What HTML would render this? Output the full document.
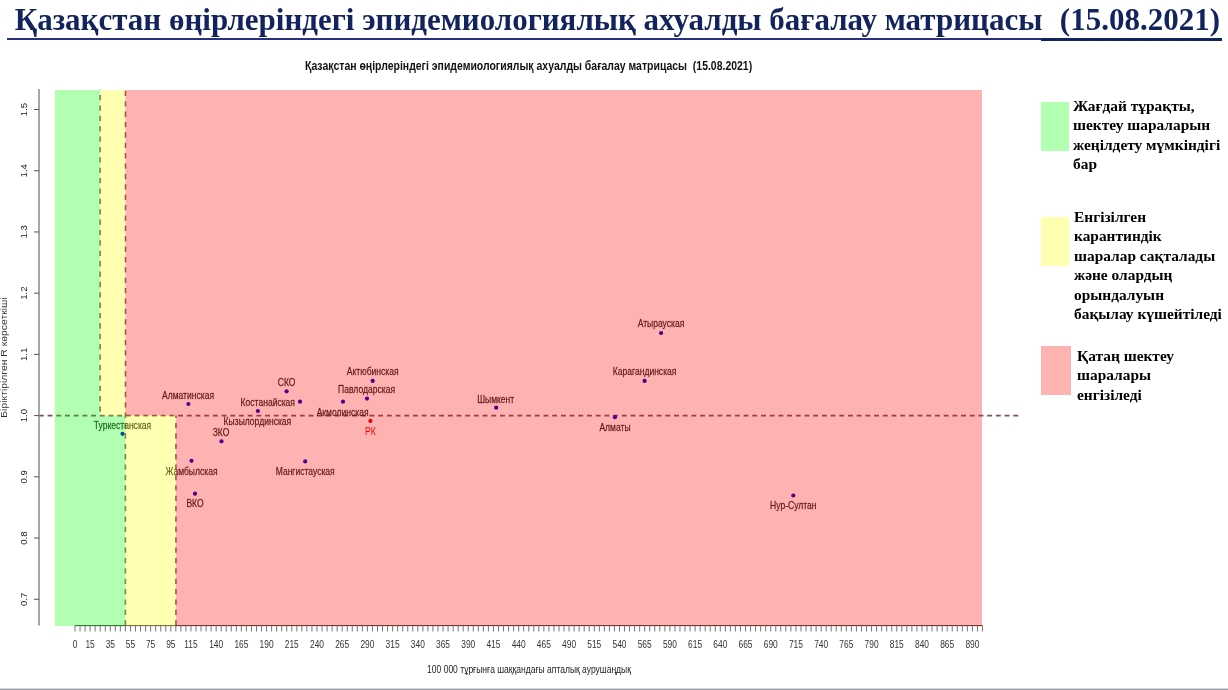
<!DOCTYPE html>
<html><head><meta charset="utf-8"><style>
html,body{margin:0;padding:0;background:#fff;overflow:hidden}
#root{position:relative;will-change:transform;width:1228px;height:690px;overflow:hidden;background:#fff}
.title{position:absolute;left:14.7px;top:0;font-family:"Liberation Serif",serif;font-weight:bold;font-size:31px;line-height:40px;color:#13235e;white-space:pre}
.ul1{position:absolute;left:7px;top:38px;width:1034px;height:2px;background:#2a2f7e}
.ul2{position:absolute;left:1041px;top:38px;width:181px;height:3.4px;background:#13235e}
.lg{position:absolute}
.lt{position:absolute;font-family:"Liberation Serif",serif;font-weight:bold;font-size:14.5px;line-height:19.45px;color:#000;white-space:pre;transform:scaleX(1.062);transform-origin:0 0}
.bot{position:absolute;left:0;top:688px;width:1228px;height:2px;background:linear-gradient(#d2d4da 0 50%,#a0a4ae 50% 100%)}
</style></head><body><div id="root">
<div class="title">Қазақстан өңірлеріндегі эпидемиологиялық ахуалды бағалау матрицасы  <span style="margin-left:2px">(15.08.2021)</span></div>
<div class="ul1"></div><div class="ul2"></div>
<svg width="1228" height="690" viewBox="0 0 1228 690" style="position:absolute;left:0;top:0"><line x1="38.9" y1="415.6" x2="1019" y2="415.6" stroke="#80505c" stroke-width="1.8" stroke-dasharray="4.9 3.8"/><line x1="100.21" y1="89.8" x2="100.21" y2="415.6" stroke="#80505c" stroke-width="1.6" stroke-dasharray="5.3 5.08" stroke-dashoffset="5.18"/><line x1="125.41" y1="625.5" x2="125.41" y2="89.8" stroke="#80505c" stroke-width="1.6" stroke-dasharray="5.3 5.08"/><line x1="175.83" y1="625.5" x2="175.83" y2="415.6" stroke="#80505c" stroke-width="1.6" stroke-dasharray="5.3 5.08"/><circle cx="122.5" cy="433.8" r="2.1" fill="#0000c8"/><text transform="translate(122.5 428.6) scale(0.855 1)" text-anchor="middle" style="font-family:'Liberation Sans',sans-serif;font-size:10px" fill="#1e1e1e" stroke="#1e1e1e" stroke-width="0.3" stroke-opacity="0.6">Туркестанская</text><circle cx="188.4" cy="404.0" r="2.1" fill="#0000c8"/><text transform="translate(188.0 398.8) scale(0.855 1)" text-anchor="middle" style="font-family:'Liberation Sans',sans-serif;font-size:10px" fill="#1e1e1e" stroke="#1e1e1e" stroke-width="0.3" stroke-opacity="0.6">Алматинская</text><circle cx="191.5" cy="460.8" r="2.1" fill="#0000c8"/><text transform="translate(191.5 474.90000000000003) scale(0.855 1)" text-anchor="middle" style="font-family:'Liberation Sans',sans-serif;font-size:10px" fill="#1e1e1e" stroke="#1e1e1e" stroke-width="0.3" stroke-opacity="0.6">Жамбылская</text><circle cx="195.0" cy="493.7" r="2.1" fill="#0000c8"/><text transform="translate(195.0 507.40000000000003) scale(0.855 1)" text-anchor="middle" style="font-family:'Liberation Sans',sans-serif;font-size:10px" fill="#1e1e1e" stroke="#1e1e1e" stroke-width="0.3" stroke-opacity="0.6">ВКО</text><circle cx="221.5" cy="441.3" r="2.1" fill="#0000c8"/><text transform="translate(221.0 436.0) scale(0.855 1)" text-anchor="middle" style="font-family:'Liberation Sans',sans-serif;font-size:10px" fill="#1e1e1e" stroke="#1e1e1e" stroke-width="0.3" stroke-opacity="0.6">ЗКО</text><circle cx="257.9" cy="411.0" r="2.1" fill="#0000c8"/><text transform="translate(257.4 424.8) scale(0.855 1)" text-anchor="middle" style="font-family:'Liberation Sans',sans-serif;font-size:10px" fill="#1e1e1e" stroke="#1e1e1e" stroke-width="0.3" stroke-opacity="0.6">Кызылординская</text><circle cx="286.6" cy="391.3" r="2.1" fill="#0000c8"/><text transform="translate(286.6 386.20000000000005) scale(0.855 1)" text-anchor="middle" style="font-family:'Liberation Sans',sans-serif;font-size:10px" fill="#1e1e1e" stroke="#1e1e1e" stroke-width="0.3" stroke-opacity="0.6">СКО</text><circle cx="300.0" cy="401.7" r="2.1" fill="#0000c8"/><text transform="translate(267.8 405.6) scale(0.855 1)" text-anchor="middle" style="font-family:'Liberation Sans',sans-serif;font-size:10px" fill="#1e1e1e" stroke="#1e1e1e" stroke-width="0.3" stroke-opacity="0.6">Костанайская</text><circle cx="305.2" cy="461.4" r="2.1" fill="#0000c8"/><text transform="translate(305.2 474.90000000000003) scale(0.855 1)" text-anchor="middle" style="font-family:'Liberation Sans',sans-serif;font-size:10px" fill="#1e1e1e" stroke="#1e1e1e" stroke-width="0.3" stroke-opacity="0.6">Мангистауская</text><circle cx="343.0" cy="401.7" r="2.1" fill="#0000c8"/><text transform="translate(342.6 415.8) scale(0.855 1)" text-anchor="middle" style="font-family:'Liberation Sans',sans-serif;font-size:10px" fill="#1e1e1e" stroke="#1e1e1e" stroke-width="0.3" stroke-opacity="0.6">Акмолинская</text><circle cx="367.0" cy="398.6" r="2.1" fill="#0000c8"/><text transform="translate(366.6 393.20000000000005) scale(0.855 1)" text-anchor="middle" style="font-family:'Liberation Sans',sans-serif;font-size:10px" fill="#1e1e1e" stroke="#1e1e1e" stroke-width="0.3" stroke-opacity="0.6">Павлодарская</text><circle cx="372.7" cy="380.9" r="2.1" fill="#0000c8"/><text transform="translate(372.7 375.40000000000003) scale(0.855 1)" text-anchor="middle" style="font-family:'Liberation Sans',sans-serif;font-size:10px" fill="#1e1e1e" stroke="#1e1e1e" stroke-width="0.3" stroke-opacity="0.6">Актюбинская</text><circle cx="496.2" cy="407.7" r="2.1" fill="#0000c8"/><text transform="translate(495.7 402.6) scale(0.855 1)" text-anchor="middle" style="font-family:'Liberation Sans',sans-serif;font-size:10px" fill="#1e1e1e" stroke="#1e1e1e" stroke-width="0.3" stroke-opacity="0.6">Шымкент</text><circle cx="614.9" cy="417.2" r="2.1" fill="#0000c8"/><text transform="translate(615.0 431.1) scale(0.855 1)" text-anchor="middle" style="font-family:'Liberation Sans',sans-serif;font-size:10px" fill="#1e1e1e" stroke="#1e1e1e" stroke-width="0.3" stroke-opacity="0.6">Алматы</text><circle cx="644.6" cy="380.9" r="2.1" fill="#0000c8"/><text transform="translate(644.6 375.1) scale(0.855 1)" text-anchor="middle" style="font-family:'Liberation Sans',sans-serif;font-size:10px" fill="#1e1e1e" stroke="#1e1e1e" stroke-width="0.3" stroke-opacity="0.6">Карагандинская</text><circle cx="661.1" cy="333.0" r="2.1" fill="#0000c8"/><text transform="translate(661.0 326.70000000000005) scale(0.855 1)" text-anchor="middle" style="font-family:'Liberation Sans',sans-serif;font-size:10px" fill="#1e1e1e" stroke="#1e1e1e" stroke-width="0.3" stroke-opacity="0.6">Атырауская</text><circle cx="793.3" cy="495.5" r="2.1" fill="#0000c8"/><text transform="translate(793.3 509.3) scale(0.855 1)" text-anchor="middle" style="font-family:'Liberation Sans',sans-serif;font-size:10px" fill="#1e1e1e" stroke="#1e1e1e" stroke-width="0.3" stroke-opacity="0.6">Нур-Султан</text><circle cx="370.4" cy="420.9" r="2.1" fill="#e00000"/><text transform="translate(370.4 434.90000000000003) scale(0.855 1)" text-anchor="middle" style="font-family:'Liberation Sans',sans-serif;font-size:10px" fill="#ff0000">РК</text><line x1="75.00" y1="625.6" x2="982.47" y2="625.6" stroke="#333" stroke-width="1"/><rect x="55.00" y="90.00" width="45.21" height="325.60" fill="#00ff00" fill-opacity="0.3"/><rect x="100.21" y="90.00" width="25.21" height="325.60" fill="#ffff00" fill-opacity="0.3"/><rect x="125.41" y="90.00" width="856.59" height="325.60" fill="#ff0000" fill-opacity="0.3"/><rect x="55.00" y="415.60" width="70.41" height="210.40" fill="#00ff00" fill-opacity="0.3"/><rect x="125.41" y="415.60" width="50.41" height="210.40" fill="#ffff00" fill-opacity="0.3"/><rect x="175.83" y="415.60" width="806.17" height="210.40" fill="#ff0000" fill-opacity="0.3"/><line x1="39" y1="89" x2="39" y2="625.5" stroke="#888" stroke-width="1.5"/><line x1="34" y1="599.26" x2="39" y2="599.26" stroke="#555" stroke-width="1"/><text transform="translate(26.8 599.26) rotate(-90)" text-anchor="middle" style="font-family:'Liberation Sans',sans-serif;font-size:9.6px" fill="#222">0.7</text><line x1="34" y1="538.04" x2="39" y2="538.04" stroke="#555" stroke-width="1"/><text transform="translate(26.8 538.04) rotate(-90)" text-anchor="middle" style="font-family:'Liberation Sans',sans-serif;font-size:9.6px" fill="#222">0.8</text><line x1="34" y1="476.82" x2="39" y2="476.82" stroke="#555" stroke-width="1"/><text transform="translate(26.8 476.82) rotate(-90)" text-anchor="middle" style="font-family:'Liberation Sans',sans-serif;font-size:9.6px" fill="#222">0.9</text><line x1="34" y1="415.60" x2="39" y2="415.60" stroke="#555" stroke-width="1"/><text transform="translate(26.8 415.60) rotate(-90)" text-anchor="middle" style="font-family:'Liberation Sans',sans-serif;font-size:9.6px" fill="#222">1.0</text><line x1="34" y1="354.38" x2="39" y2="354.38" stroke="#555" stroke-width="1"/><text transform="translate(26.8 354.38) rotate(-90)" text-anchor="middle" style="font-family:'Liberation Sans',sans-serif;font-size:9.6px" fill="#222">1.1</text><line x1="34" y1="293.16" x2="39" y2="293.16" stroke="#555" stroke-width="1"/><text transform="translate(26.8 293.16) rotate(-90)" text-anchor="middle" style="font-family:'Liberation Sans',sans-serif;font-size:9.6px" fill="#222">1.2</text><line x1="34" y1="231.94" x2="39" y2="231.94" stroke="#555" stroke-width="1"/><text transform="translate(26.8 231.94) rotate(-90)" text-anchor="middle" style="font-family:'Liberation Sans',sans-serif;font-size:9.6px" fill="#222">1.3</text><line x1="34" y1="170.72" x2="39" y2="170.72" stroke="#555" stroke-width="1"/><text transform="translate(26.8 170.72) rotate(-90)" text-anchor="middle" style="font-family:'Liberation Sans',sans-serif;font-size:9.6px" fill="#222">1.4</text><line x1="34" y1="109.50" x2="39" y2="109.50" stroke="#555" stroke-width="1"/><text transform="translate(26.8 109.50) rotate(-90)" text-anchor="middle" style="font-family:'Liberation Sans',sans-serif;font-size:9.6px" fill="#222">1.5</text><line x1="75.00" y1="625.5" x2="75.00" y2="631.5" stroke="#666" stroke-width="0.9"/><line x1="80.04" y1="625.5" x2="80.04" y2="631.5" stroke="#666" stroke-width="0.9"/><line x1="85.08" y1="625.5" x2="85.08" y2="631.5" stroke="#666" stroke-width="0.9"/><line x1="90.12" y1="625.5" x2="90.12" y2="631.5" stroke="#666" stroke-width="0.9"/><line x1="95.17" y1="625.5" x2="95.17" y2="631.5" stroke="#666" stroke-width="0.9"/><line x1="100.21" y1="625.5" x2="100.21" y2="631.5" stroke="#666" stroke-width="0.9"/><line x1="105.25" y1="625.5" x2="105.25" y2="631.5" stroke="#666" stroke-width="0.9"/><line x1="110.29" y1="625.5" x2="110.29" y2="631.5" stroke="#666" stroke-width="0.9"/><line x1="115.33" y1="625.5" x2="115.33" y2="631.5" stroke="#666" stroke-width="0.9"/><line x1="120.37" y1="625.5" x2="120.37" y2="631.5" stroke="#666" stroke-width="0.9"/><line x1="125.41" y1="625.5" x2="125.41" y2="631.5" stroke="#666" stroke-width="0.9"/><line x1="130.46" y1="625.5" x2="130.46" y2="631.5" stroke="#666" stroke-width="0.9"/><line x1="135.50" y1="625.5" x2="135.50" y2="631.5" stroke="#666" stroke-width="0.9"/><line x1="140.54" y1="625.5" x2="140.54" y2="631.5" stroke="#666" stroke-width="0.9"/><line x1="145.58" y1="625.5" x2="145.58" y2="631.5" stroke="#666" stroke-width="0.9"/><line x1="150.62" y1="625.5" x2="150.62" y2="631.5" stroke="#666" stroke-width="0.9"/><line x1="155.66" y1="625.5" x2="155.66" y2="631.5" stroke="#666" stroke-width="0.9"/><line x1="160.71" y1="625.5" x2="160.71" y2="631.5" stroke="#666" stroke-width="0.9"/><line x1="165.75" y1="625.5" x2="165.75" y2="631.5" stroke="#666" stroke-width="0.9"/><line x1="170.79" y1="625.5" x2="170.79" y2="631.5" stroke="#666" stroke-width="0.9"/><line x1="175.83" y1="625.5" x2="175.83" y2="631.5" stroke="#666" stroke-width="0.9"/><line x1="180.87" y1="625.5" x2="180.87" y2="631.5" stroke="#666" stroke-width="0.9"/><line x1="185.91" y1="625.5" x2="185.91" y2="631.5" stroke="#666" stroke-width="0.9"/><line x1="190.95" y1="625.5" x2="190.95" y2="631.5" stroke="#666" stroke-width="0.9"/><line x1="196.00" y1="625.5" x2="196.00" y2="631.5" stroke="#666" stroke-width="0.9"/><line x1="201.04" y1="625.5" x2="201.04" y2="631.5" stroke="#666" stroke-width="0.9"/><line x1="206.08" y1="625.5" x2="206.08" y2="631.5" stroke="#666" stroke-width="0.9"/><line x1="211.12" y1="625.5" x2="211.12" y2="631.5" stroke="#666" stroke-width="0.9"/><line x1="216.16" y1="625.5" x2="216.16" y2="631.5" stroke="#666" stroke-width="0.9"/><line x1="221.20" y1="625.5" x2="221.20" y2="631.5" stroke="#666" stroke-width="0.9"/><line x1="226.25" y1="625.5" x2="226.25" y2="631.5" stroke="#666" stroke-width="0.9"/><line x1="231.29" y1="625.5" x2="231.29" y2="631.5" stroke="#666" stroke-width="0.9"/><line x1="236.33" y1="625.5" x2="236.33" y2="631.5" stroke="#666" stroke-width="0.9"/><line x1="241.37" y1="625.5" x2="241.37" y2="631.5" stroke="#666" stroke-width="0.9"/><line x1="246.41" y1="625.5" x2="246.41" y2="631.5" stroke="#666" stroke-width="0.9"/><line x1="251.45" y1="625.5" x2="251.45" y2="631.5" stroke="#666" stroke-width="0.9"/><line x1="256.49" y1="625.5" x2="256.49" y2="631.5" stroke="#666" stroke-width="0.9"/><line x1="261.54" y1="625.5" x2="261.54" y2="631.5" stroke="#666" stroke-width="0.9"/><line x1="266.58" y1="625.5" x2="266.58" y2="631.5" stroke="#666" stroke-width="0.9"/><line x1="271.62" y1="625.5" x2="271.62" y2="631.5" stroke="#666" stroke-width="0.9"/><line x1="276.66" y1="625.5" x2="276.66" y2="631.5" stroke="#666" stroke-width="0.9"/><line x1="281.70" y1="625.5" x2="281.70" y2="631.5" stroke="#666" stroke-width="0.9"/><line x1="286.74" y1="625.5" x2="286.74" y2="631.5" stroke="#666" stroke-width="0.9"/><line x1="291.78" y1="625.5" x2="291.78" y2="631.5" stroke="#666" stroke-width="0.9"/><line x1="296.83" y1="625.5" x2="296.83" y2="631.5" stroke="#666" stroke-width="0.9"/><line x1="301.87" y1="625.5" x2="301.87" y2="631.5" stroke="#666" stroke-width="0.9"/><line x1="306.91" y1="625.5" x2="306.91" y2="631.5" stroke="#666" stroke-width="0.9"/><line x1="311.95" y1="625.5" x2="311.95" y2="631.5" stroke="#666" stroke-width="0.9"/><line x1="316.99" y1="625.5" x2="316.99" y2="631.5" stroke="#666" stroke-width="0.9"/><line x1="322.03" y1="625.5" x2="322.03" y2="631.5" stroke="#666" stroke-width="0.9"/><line x1="327.07" y1="625.5" x2="327.07" y2="631.5" stroke="#666" stroke-width="0.9"/><line x1="332.12" y1="625.5" x2="332.12" y2="631.5" stroke="#666" stroke-width="0.9"/><line x1="337.16" y1="625.5" x2="337.16" y2="631.5" stroke="#666" stroke-width="0.9"/><line x1="342.20" y1="625.5" x2="342.20" y2="631.5" stroke="#666" stroke-width="0.9"/><line x1="347.24" y1="625.5" x2="347.24" y2="631.5" stroke="#666" stroke-width="0.9"/><line x1="352.28" y1="625.5" x2="352.28" y2="631.5" stroke="#666" stroke-width="0.9"/><line x1="357.32" y1="625.5" x2="357.32" y2="631.5" stroke="#666" stroke-width="0.9"/><line x1="362.37" y1="625.5" x2="362.37" y2="631.5" stroke="#666" stroke-width="0.9"/><line x1="367.41" y1="625.5" x2="367.41" y2="631.5" stroke="#666" stroke-width="0.9"/><line x1="372.45" y1="625.5" x2="372.45" y2="631.5" stroke="#666" stroke-width="0.9"/><line x1="377.49" y1="625.5" x2="377.49" y2="631.5" stroke="#666" stroke-width="0.9"/><line x1="382.53" y1="625.5" x2="382.53" y2="631.5" stroke="#666" stroke-width="0.9"/><line x1="387.57" y1="625.5" x2="387.57" y2="631.5" stroke="#666" stroke-width="0.9"/><line x1="392.61" y1="625.5" x2="392.61" y2="631.5" stroke="#666" stroke-width="0.9"/><line x1="397.66" y1="625.5" x2="397.66" y2="631.5" stroke="#666" stroke-width="0.9"/><line x1="402.70" y1="625.5" x2="402.70" y2="631.5" stroke="#666" stroke-width="0.9"/><line x1="407.74" y1="625.5" x2="407.74" y2="631.5" stroke="#666" stroke-width="0.9"/><line x1="412.78" y1="625.5" x2="412.78" y2="631.5" stroke="#666" stroke-width="0.9"/><line x1="417.82" y1="625.5" x2="417.82" y2="631.5" stroke="#666" stroke-width="0.9"/><line x1="422.86" y1="625.5" x2="422.86" y2="631.5" stroke="#666" stroke-width="0.9"/><line x1="427.90" y1="625.5" x2="427.90" y2="631.5" stroke="#666" stroke-width="0.9"/><line x1="432.95" y1="625.5" x2="432.95" y2="631.5" stroke="#666" stroke-width="0.9"/><line x1="437.99" y1="625.5" x2="437.99" y2="631.5" stroke="#666" stroke-width="0.9"/><line x1="443.03" y1="625.5" x2="443.03" y2="631.5" stroke="#666" stroke-width="0.9"/><line x1="448.07" y1="625.5" x2="448.07" y2="631.5" stroke="#666" stroke-width="0.9"/><line x1="453.11" y1="625.5" x2="453.11" y2="631.5" stroke="#666" stroke-width="0.9"/><line x1="458.15" y1="625.5" x2="458.15" y2="631.5" stroke="#666" stroke-width="0.9"/><line x1="463.20" y1="625.5" x2="463.20" y2="631.5" stroke="#666" stroke-width="0.9"/><line x1="468.24" y1="625.5" x2="468.24" y2="631.5" stroke="#666" stroke-width="0.9"/><line x1="473.28" y1="625.5" x2="473.28" y2="631.5" stroke="#666" stroke-width="0.9"/><line x1="478.32" y1="625.5" x2="478.32" y2="631.5" stroke="#666" stroke-width="0.9"/><line x1="483.36" y1="625.5" x2="483.36" y2="631.5" stroke="#666" stroke-width="0.9"/><line x1="488.40" y1="625.5" x2="488.40" y2="631.5" stroke="#666" stroke-width="0.9"/><line x1="493.44" y1="625.5" x2="493.44" y2="631.5" stroke="#666" stroke-width="0.9"/><line x1="498.49" y1="625.5" x2="498.49" y2="631.5" stroke="#666" stroke-width="0.9"/><line x1="503.53" y1="625.5" x2="503.53" y2="631.5" stroke="#666" stroke-width="0.9"/><line x1="508.57" y1="625.5" x2="508.57" y2="631.5" stroke="#666" stroke-width="0.9"/><line x1="513.61" y1="625.5" x2="513.61" y2="631.5" stroke="#666" stroke-width="0.9"/><line x1="518.65" y1="625.5" x2="518.65" y2="631.5" stroke="#666" stroke-width="0.9"/><line x1="523.69" y1="625.5" x2="523.69" y2="631.5" stroke="#666" stroke-width="0.9"/><line x1="528.74" y1="625.5" x2="528.74" y2="631.5" stroke="#666" stroke-width="0.9"/><line x1="533.78" y1="625.5" x2="533.78" y2="631.5" stroke="#666" stroke-width="0.9"/><line x1="538.82" y1="625.5" x2="538.82" y2="631.5" stroke="#666" stroke-width="0.9"/><line x1="543.86" y1="625.5" x2="543.86" y2="631.5" stroke="#666" stroke-width="0.9"/><line x1="548.90" y1="625.5" x2="548.90" y2="631.5" stroke="#666" stroke-width="0.9"/><line x1="553.94" y1="625.5" x2="553.94" y2="631.5" stroke="#666" stroke-width="0.9"/><line x1="558.98" y1="625.5" x2="558.98" y2="631.5" stroke="#666" stroke-width="0.9"/><line x1="564.03" y1="625.5" x2="564.03" y2="631.5" stroke="#666" stroke-width="0.9"/><line x1="569.07" y1="625.5" x2="569.07" y2="631.5" stroke="#666" stroke-width="0.9"/><line x1="574.11" y1="625.5" x2="574.11" y2="631.5" stroke="#666" stroke-width="0.9"/><line x1="579.15" y1="625.5" x2="579.15" y2="631.5" stroke="#666" stroke-width="0.9"/><line x1="584.19" y1="625.5" x2="584.19" y2="631.5" stroke="#666" stroke-width="0.9"/><line x1="589.23" y1="625.5" x2="589.23" y2="631.5" stroke="#666" stroke-width="0.9"/><line x1="594.27" y1="625.5" x2="594.27" y2="631.5" stroke="#666" stroke-width="0.9"/><line x1="599.32" y1="625.5" x2="599.32" y2="631.5" stroke="#666" stroke-width="0.9"/><line x1="604.36" y1="625.5" x2="604.36" y2="631.5" stroke="#666" stroke-width="0.9"/><line x1="609.40" y1="625.5" x2="609.40" y2="631.5" stroke="#666" stroke-width="0.9"/><line x1="614.44" y1="625.5" x2="614.44" y2="631.5" stroke="#666" stroke-width="0.9"/><line x1="619.48" y1="625.5" x2="619.48" y2="631.5" stroke="#666" stroke-width="0.9"/><line x1="624.52" y1="625.5" x2="624.52" y2="631.5" stroke="#666" stroke-width="0.9"/><line x1="629.56" y1="625.5" x2="629.56" y2="631.5" stroke="#666" stroke-width="0.9"/><line x1="634.61" y1="625.5" x2="634.61" y2="631.5" stroke="#666" stroke-width="0.9"/><line x1="639.65" y1="625.5" x2="639.65" y2="631.5" stroke="#666" stroke-width="0.9"/><line x1="644.69" y1="625.5" x2="644.69" y2="631.5" stroke="#666" stroke-width="0.9"/><line x1="649.73" y1="625.5" x2="649.73" y2="631.5" stroke="#666" stroke-width="0.9"/><line x1="654.77" y1="625.5" x2="654.77" y2="631.5" stroke="#666" stroke-width="0.9"/><line x1="659.81" y1="625.5" x2="659.81" y2="631.5" stroke="#666" stroke-width="0.9"/><line x1="664.86" y1="625.5" x2="664.86" y2="631.5" stroke="#666" stroke-width="0.9"/><line x1="669.90" y1="625.5" x2="669.90" y2="631.5" stroke="#666" stroke-width="0.9"/><line x1="674.94" y1="625.5" x2="674.94" y2="631.5" stroke="#666" stroke-width="0.9"/><line x1="679.98" y1="625.5" x2="679.98" y2="631.5" stroke="#666" stroke-width="0.9"/><line x1="685.02" y1="625.5" x2="685.02" y2="631.5" stroke="#666" stroke-width="0.9"/><line x1="690.06" y1="625.5" x2="690.06" y2="631.5" stroke="#666" stroke-width="0.9"/><line x1="695.10" y1="625.5" x2="695.10" y2="631.5" stroke="#666" stroke-width="0.9"/><line x1="700.15" y1="625.5" x2="700.15" y2="631.5" stroke="#666" stroke-width="0.9"/><line x1="705.19" y1="625.5" x2="705.19" y2="631.5" stroke="#666" stroke-width="0.9"/><line x1="710.23" y1="625.5" x2="710.23" y2="631.5" stroke="#666" stroke-width="0.9"/><line x1="715.27" y1="625.5" x2="715.27" y2="631.5" stroke="#666" stroke-width="0.9"/><line x1="720.31" y1="625.5" x2="720.31" y2="631.5" stroke="#666" stroke-width="0.9"/><line x1="725.35" y1="625.5" x2="725.35" y2="631.5" stroke="#666" stroke-width="0.9"/><line x1="730.39" y1="625.5" x2="730.39" y2="631.5" stroke="#666" stroke-width="0.9"/><line x1="735.44" y1="625.5" x2="735.44" y2="631.5" stroke="#666" stroke-width="0.9"/><line x1="740.48" y1="625.5" x2="740.48" y2="631.5" stroke="#666" stroke-width="0.9"/><line x1="745.52" y1="625.5" x2="745.52" y2="631.5" stroke="#666" stroke-width="0.9"/><line x1="750.56" y1="625.5" x2="750.56" y2="631.5" stroke="#666" stroke-width="0.9"/><line x1="755.60" y1="625.5" x2="755.60" y2="631.5" stroke="#666" stroke-width="0.9"/><line x1="760.64" y1="625.5" x2="760.64" y2="631.5" stroke="#666" stroke-width="0.9"/><line x1="765.69" y1="625.5" x2="765.69" y2="631.5" stroke="#666" stroke-width="0.9"/><line x1="770.73" y1="625.5" x2="770.73" y2="631.5" stroke="#666" stroke-width="0.9"/><line x1="775.77" y1="625.5" x2="775.77" y2="631.5" stroke="#666" stroke-width="0.9"/><line x1="780.81" y1="625.5" x2="780.81" y2="631.5" stroke="#666" stroke-width="0.9"/><line x1="785.85" y1="625.5" x2="785.85" y2="631.5" stroke="#666" stroke-width="0.9"/><line x1="790.89" y1="625.5" x2="790.89" y2="631.5" stroke="#666" stroke-width="0.9"/><line x1="795.93" y1="625.5" x2="795.93" y2="631.5" stroke="#666" stroke-width="0.9"/><line x1="800.98" y1="625.5" x2="800.98" y2="631.5" stroke="#666" stroke-width="0.9"/><line x1="806.02" y1="625.5" x2="806.02" y2="631.5" stroke="#666" stroke-width="0.9"/><line x1="811.06" y1="625.5" x2="811.06" y2="631.5" stroke="#666" stroke-width="0.9"/><line x1="816.10" y1="625.5" x2="816.10" y2="631.5" stroke="#666" stroke-width="0.9"/><line x1="821.14" y1="625.5" x2="821.14" y2="631.5" stroke="#666" stroke-width="0.9"/><line x1="826.18" y1="625.5" x2="826.18" y2="631.5" stroke="#666" stroke-width="0.9"/><line x1="831.23" y1="625.5" x2="831.23" y2="631.5" stroke="#666" stroke-width="0.9"/><line x1="836.27" y1="625.5" x2="836.27" y2="631.5" stroke="#666" stroke-width="0.9"/><line x1="841.31" y1="625.5" x2="841.31" y2="631.5" stroke="#666" stroke-width="0.9"/><line x1="846.35" y1="625.5" x2="846.35" y2="631.5" stroke="#666" stroke-width="0.9"/><line x1="851.39" y1="625.5" x2="851.39" y2="631.5" stroke="#666" stroke-width="0.9"/><line x1="856.43" y1="625.5" x2="856.43" y2="631.5" stroke="#666" stroke-width="0.9"/><line x1="861.47" y1="625.5" x2="861.47" y2="631.5" stroke="#666" stroke-width="0.9"/><line x1="866.52" y1="625.5" x2="866.52" y2="631.5" stroke="#666" stroke-width="0.9"/><line x1="871.56" y1="625.5" x2="871.56" y2="631.5" stroke="#666" stroke-width="0.9"/><line x1="876.60" y1="625.5" x2="876.60" y2="631.5" stroke="#666" stroke-width="0.9"/><line x1="881.64" y1="625.5" x2="881.64" y2="631.5" stroke="#666" stroke-width="0.9"/><line x1="886.68" y1="625.5" x2="886.68" y2="631.5" stroke="#666" stroke-width="0.9"/><line x1="891.72" y1="625.5" x2="891.72" y2="631.5" stroke="#666" stroke-width="0.9"/><line x1="896.76" y1="625.5" x2="896.76" y2="631.5" stroke="#666" stroke-width="0.9"/><line x1="901.81" y1="625.5" x2="901.81" y2="631.5" stroke="#666" stroke-width="0.9"/><line x1="906.85" y1="625.5" x2="906.85" y2="631.5" stroke="#666" stroke-width="0.9"/><line x1="911.89" y1="625.5" x2="911.89" y2="631.5" stroke="#666" stroke-width="0.9"/><line x1="916.93" y1="625.5" x2="916.93" y2="631.5" stroke="#666" stroke-width="0.9"/><line x1="921.97" y1="625.5" x2="921.97" y2="631.5" stroke="#666" stroke-width="0.9"/><line x1="927.01" y1="625.5" x2="927.01" y2="631.5" stroke="#666" stroke-width="0.9"/><line x1="932.05" y1="625.5" x2="932.05" y2="631.5" stroke="#666" stroke-width="0.9"/><line x1="937.10" y1="625.5" x2="937.10" y2="631.5" stroke="#666" stroke-width="0.9"/><line x1="942.14" y1="625.5" x2="942.14" y2="631.5" stroke="#666" stroke-width="0.9"/><line x1="947.18" y1="625.5" x2="947.18" y2="631.5" stroke="#666" stroke-width="0.9"/><line x1="952.22" y1="625.5" x2="952.22" y2="631.5" stroke="#666" stroke-width="0.9"/><line x1="957.26" y1="625.5" x2="957.26" y2="631.5" stroke="#666" stroke-width="0.9"/><line x1="962.30" y1="625.5" x2="962.30" y2="631.5" stroke="#666" stroke-width="0.9"/><line x1="967.35" y1="625.5" x2="967.35" y2="631.5" stroke="#666" stroke-width="0.9"/><line x1="972.39" y1="625.5" x2="972.39" y2="631.5" stroke="#666" stroke-width="0.9"/><line x1="977.43" y1="625.5" x2="977.43" y2="631.5" stroke="#666" stroke-width="0.9"/><line x1="982.47" y1="625.5" x2="982.47" y2="631.5" stroke="#666" stroke-width="0.9"/><text transform="translate(75.00 648.1) scale(0.84 1)" text-anchor="middle" style="font-family:'Liberation Sans',sans-serif;font-size:10px" fill="#333">0</text><text transform="translate(90.12 648.1) scale(0.84 1)" text-anchor="middle" style="font-family:'Liberation Sans',sans-serif;font-size:10px" fill="#333">15</text><text transform="translate(110.29 648.1) scale(0.84 1)" text-anchor="middle" style="font-family:'Liberation Sans',sans-serif;font-size:10px" fill="#333">35</text><text transform="translate(130.46 648.1) scale(0.84 1)" text-anchor="middle" style="font-family:'Liberation Sans',sans-serif;font-size:10px" fill="#333">55</text><text transform="translate(150.62 648.1) scale(0.84 1)" text-anchor="middle" style="font-family:'Liberation Sans',sans-serif;font-size:10px" fill="#333">75</text><text transform="translate(170.79 648.1) scale(0.84 1)" text-anchor="middle" style="font-family:'Liberation Sans',sans-serif;font-size:10px" fill="#333">95</text><text transform="translate(190.95 648.1) scale(0.84 1)" text-anchor="middle" style="font-family:'Liberation Sans',sans-serif;font-size:10px" fill="#333">115</text><text transform="translate(216.16 648.1) scale(0.84 1)" text-anchor="middle" style="font-family:'Liberation Sans',sans-serif;font-size:10px" fill="#333">140</text><text transform="translate(241.37 648.1) scale(0.84 1)" text-anchor="middle" style="font-family:'Liberation Sans',sans-serif;font-size:10px" fill="#333">165</text><text transform="translate(266.58 648.1) scale(0.84 1)" text-anchor="middle" style="font-family:'Liberation Sans',sans-serif;font-size:10px" fill="#333">190</text><text transform="translate(291.78 648.1) scale(0.84 1)" text-anchor="middle" style="font-family:'Liberation Sans',sans-serif;font-size:10px" fill="#333">215</text><text transform="translate(316.99 648.1) scale(0.84 1)" text-anchor="middle" style="font-family:'Liberation Sans',sans-serif;font-size:10px" fill="#333">240</text><text transform="translate(342.20 648.1) scale(0.84 1)" text-anchor="middle" style="font-family:'Liberation Sans',sans-serif;font-size:10px" fill="#333">265</text><text transform="translate(367.41 648.1) scale(0.84 1)" text-anchor="middle" style="font-family:'Liberation Sans',sans-serif;font-size:10px" fill="#333">290</text><text transform="translate(392.61 648.1) scale(0.84 1)" text-anchor="middle" style="font-family:'Liberation Sans',sans-serif;font-size:10px" fill="#333">315</text><text transform="translate(417.82 648.1) scale(0.84 1)" text-anchor="middle" style="font-family:'Liberation Sans',sans-serif;font-size:10px" fill="#333">340</text><text transform="translate(443.03 648.1) scale(0.84 1)" text-anchor="middle" style="font-family:'Liberation Sans',sans-serif;font-size:10px" fill="#333">365</text><text transform="translate(468.24 648.1) scale(0.84 1)" text-anchor="middle" style="font-family:'Liberation Sans',sans-serif;font-size:10px" fill="#333">390</text><text transform="translate(493.44 648.1) scale(0.84 1)" text-anchor="middle" style="font-family:'Liberation Sans',sans-serif;font-size:10px" fill="#333">415</text><text transform="translate(518.65 648.1) scale(0.84 1)" text-anchor="middle" style="font-family:'Liberation Sans',sans-serif;font-size:10px" fill="#333">440</text><text transform="translate(543.86 648.1) scale(0.84 1)" text-anchor="middle" style="font-family:'Liberation Sans',sans-serif;font-size:10px" fill="#333">465</text><text transform="translate(569.07 648.1) scale(0.84 1)" text-anchor="middle" style="font-family:'Liberation Sans',sans-serif;font-size:10px" fill="#333">490</text><text transform="translate(594.27 648.1) scale(0.84 1)" text-anchor="middle" style="font-family:'Liberation Sans',sans-serif;font-size:10px" fill="#333">515</text><text transform="translate(619.48 648.1) scale(0.84 1)" text-anchor="middle" style="font-family:'Liberation Sans',sans-serif;font-size:10px" fill="#333">540</text><text transform="translate(644.69 648.1) scale(0.84 1)" text-anchor="middle" style="font-family:'Liberation Sans',sans-serif;font-size:10px" fill="#333">565</text><text transform="translate(669.90 648.1) scale(0.84 1)" text-anchor="middle" style="font-family:'Liberation Sans',sans-serif;font-size:10px" fill="#333">590</text><text transform="translate(695.10 648.1) scale(0.84 1)" text-anchor="middle" style="font-family:'Liberation Sans',sans-serif;font-size:10px" fill="#333">615</text><text transform="translate(720.31 648.1) scale(0.84 1)" text-anchor="middle" style="font-family:'Liberation Sans',sans-serif;font-size:10px" fill="#333">640</text><text transform="translate(745.52 648.1) scale(0.84 1)" text-anchor="middle" style="font-family:'Liberation Sans',sans-serif;font-size:10px" fill="#333">665</text><text transform="translate(770.73 648.1) scale(0.84 1)" text-anchor="middle" style="font-family:'Liberation Sans',sans-serif;font-size:10px" fill="#333">690</text><text transform="translate(795.93 648.1) scale(0.84 1)" text-anchor="middle" style="font-family:'Liberation Sans',sans-serif;font-size:10px" fill="#333">715</text><text transform="translate(821.14 648.1) scale(0.84 1)" text-anchor="middle" style="font-family:'Liberation Sans',sans-serif;font-size:10px" fill="#333">740</text><text transform="translate(846.35 648.1) scale(0.84 1)" text-anchor="middle" style="font-family:'Liberation Sans',sans-serif;font-size:10px" fill="#333">765</text><text transform="translate(871.56 648.1) scale(0.84 1)" text-anchor="middle" style="font-family:'Liberation Sans',sans-serif;font-size:10px" fill="#333">790</text><text transform="translate(896.76 648.1) scale(0.84 1)" text-anchor="middle" style="font-family:'Liberation Sans',sans-serif;font-size:10px" fill="#333">815</text><text transform="translate(921.97 648.1) scale(0.84 1)" text-anchor="middle" style="font-family:'Liberation Sans',sans-serif;font-size:10px" fill="#333">840</text><text transform="translate(947.18 648.1) scale(0.84 1)" text-anchor="middle" style="font-family:'Liberation Sans',sans-serif;font-size:10px" fill="#333">865</text><text transform="translate(972.39 648.1) scale(0.84 1)" text-anchor="middle" style="font-family:'Liberation Sans',sans-serif;font-size:10px" fill="#333">890</text><text transform="translate(529 672.8) scale(0.853 1)" text-anchor="middle" style="font-family:'Liberation Sans',sans-serif;font-size:10px" fill="#222">100 000 тұрғынға шаққандағы апталық аурушаңдық</text><text transform="translate(6.6 357.5) rotate(-90) scale(1 0.84)" text-anchor="middle" style="font-family:'Liberation Sans',sans-serif;font-size:10.4px" fill="#333">Біріктірілген R көрсеткіші</text><text transform="translate(528.6 69.8) scale(0.873 1)" text-anchor="middle" style="font-family:'Liberation Sans',sans-serif;font-size:12px;font-weight:bold" fill="#111">Қазақстан өңірлеріндегі эпидемиологиялық ахуалды бағалау матрицасы&#160;&#160;(15.08.2021)</text></svg>

<div class="lg" style="left:1041px;top:102px;width:28px;height:49px;background:#b2ffb2"></div>
<div class="lt" style="left:1072.6px;top:96.8px">Жағдай тұрақты,<br>шектеу шараларын<br>жеңілдету мүмкіндігі<br>бар</div>
<div class="lg" style="left:1041px;top:217px;width:28px;height:49px;background:#ffffb2"></div>
<div class="lt" style="left:1074.3px;top:207.7px">Енгізілген<br>карантиндік<br>шаралар сақталады<br>және олардың<br>орындалуын<br>бақылау күшейтіледі</div>
<div class="lg" style="left:1041px;top:346px;width:30px;height:49px;background:#ffb2b2"></div>
<div class="lt" style="left:1077px;top:346.8px">Қатаң шектеу<br>шаралары<br>енгізіледі</div>

<div class="bot"></div>
</div></body></html>
